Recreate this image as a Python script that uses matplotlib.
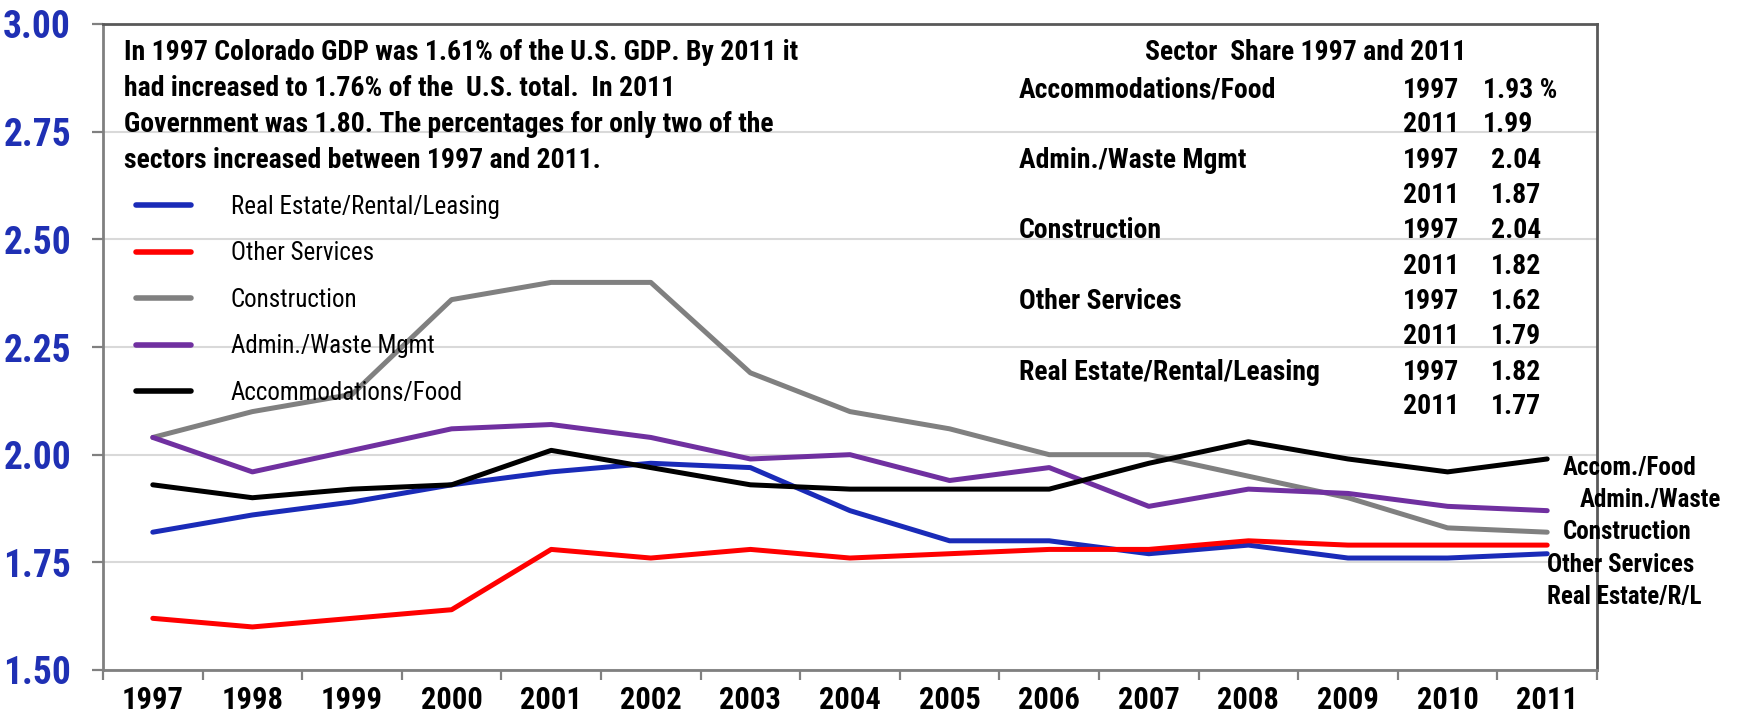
import matplotlib
matplotlib.use("Agg")
import matplotlib.pyplot as plt
from matplotlib import font_manager as fm

# ---------------- data ----------------
years = ["1997", "1998", "1999", "2000", "2001", "2002", "2003", "2004",
         "2005", "2006", "2007", "2008", "2009", "2010", "2011"]
real_estate = [1.82, 1.86, 1.89, 1.93, 1.96, 1.98, 1.97, 1.87, 1.80, 1.80, 1.77, 1.79, 1.76, 1.76, 1.77]
other_services = [1.62, 1.60, 1.62, 1.64, 1.78, 1.76, 1.78, 1.76, 1.77, 1.78, 1.78, 1.80, 1.79, 1.79, 1.79]
construction = [2.04, 2.10, 2.14, 2.36, 2.40, 2.40, 2.19, 2.10, 2.06, 2.00, 2.00, 1.95, 1.90, 1.83, 1.82]
admin_waste = [2.04, 1.96, 2.01, 2.06, 2.07, 2.04, 1.99, 2.00, 1.94, 1.97, 1.88, 1.92, 1.91, 1.88, 1.87]
accom_food = [1.93, 1.90, 1.92, 1.93, 2.01, 1.97, 1.93, 1.92, 1.92, 1.92, 1.98, 2.03, 1.99, 1.96, 1.99]

series_names = ["Real Estate/Rental/Leasing", "Other Services", "Construction",
                "Admin./Waste Mgmt", "Accommodations/Food"]
series_colors = ["#1a2bb8", "#ff0000", "#808080", "#7030a0", "#000000"]

yticks = [1.50, 1.75, 2.00, 2.25, 2.50, 2.75, 3.00]
ytick_labels = ["1.50", "1.75", "2.00", "2.25", "2.50", "2.75", "3.00"]

note_lines = ["In 1997 Colorado GDP was 1.61% of the U.S. GDP. By 2011 it",
              "had increased to 1.76% of the  U.S. total.  In 2011",
              "Government was 1.80. The percentages for only two of the",
              "sectors increased between 1997 and 2011."]

table_title = "Sector  Share 1997 and 2011"
table_sectors = ["Accommodations/Food", "Admin./Waste Mgmt", "Construction",
                 "Other Services", "Real Estate/Rental/Leasing"]
table_1997 = ["1.93 %", "2.04", "2.04", "1.62", "1.82"]
table_2011 = ["1.99", "1.87", "1.82", "1.79", "1.77"]

end_labels = ["Accom./Food", "Admin./Waste", "Construction", "Other Services", "Real Estate/R/L"]

# ---------------- fonts ----------------
names = {f.name for f in fm.fontManager.ttflist}
FAM = None
for cand in ["Liberation Sans Narrow", "Nimbus Sans Narrow", "Roboto Condensed",
             "Archivo Narrow", "PT Sans Narrow"]:
    if cand in names:
        FAM = cand
        break
if FAM is None:
    FAM = "DejaVu Sans"
plt.rcParams["font.family"] = [FAM, "DejaVu Sans"]

W, H = 1740, 715
fig = plt.figure(figsize=(W / 100, H / 100), dpi=100)

def fx(x):
    return x / W

def fy(y):
    return 1 - y / H

left, right, top, bottom = 103, 1597, 24, 670
ax = fig.add_axes([fx(left), fy(bottom), fx(right) - fx(left), fy(top) - fy(bottom)])

xs = list(range(len(years)))
all_series = [real_estate, other_services, construction, admin_waste, accom_food]
for vals, name, col in zip(all_series, series_names, series_colors):
    ax.plot(xs, vals, color=col, lw=3.6, label=name, solid_capstyle="round",
            solid_joinstyle="round", zorder=3)

ax.set_xlim(-0.5, len(years) - 0.5)
ax.set_ylim(1.5, 3.0)
ax.set_yticks(yticks)
ax.set_yticklabels(ytick_labels, fontsize=27, fontweight="bold", color="#1f30b4")
ax.set_xticks(xs)
ax.set_xticklabels(years, fontsize=22, fontweight="bold", color="#000000")
ax.set_xticks([x - 0.5 for x in xs] + [len(years) - 0.5], minor=True)
ax.tick_params(axis="x", which="major", length=0, pad=11)
ax.tick_params(axis="x", which="minor", length=7.5, width=1.6, color="#808080", direction="out")
ax.tick_params(axis="y", which="major", length=8, width=1.6, color="#808080", pad=15)
ax.grid(axis="y", color="#d9d9d9", lw=1.5, zorder=0)
ax.set_axisbelow(True)
for s in ["left", "bottom"]:
    ax.spines[s].set_color("#808080")
    ax.spines[s].set_linewidth(2)
for s in ["top", "right"]:
    ax.spines[s].set_color("#595959")
    ax.spines[s].set_linewidth(2)

# legend
leg = ax.legend(loc="upper left", bbox_to_anchor=(fx(136), fy(195)), bbox_transform=fig.transFigure,
                frameon=False, fontsize=18, handlelength=2.2, handletextpad=1.6,
                labelspacing=0.9, borderaxespad=0, borderpad=0)
for l in leg.get_lines():
    l.set_linewidth(4)

# note text
for i, line in enumerate(note_lines):
    fig.text(fx(124), fy(53 + i * 35.7), line, fontsize=20, fontweight="bold",
             va="center", ha="left")

# table
fig.text(fx(1145), fy(53), table_title, fontsize=20, fontweight="bold", va="center", ha="left")
for i, (sec, v97, v11) in enumerate(zip(table_sectors, table_1997, table_2011)):
    y1 = 90 + i * 70.5
    y2 = y1 + 35
    fig.text(fx(1019), fy(y1), sec, fontsize=20, fontweight="bold", va="center", ha="left")
    fig.text(fx(1403), fy(y1), "1997", fontsize=20, fontweight="bold", va="center", ha="left")
    fig.text(fx(1403), fy(y2), "2011", fontsize=20, fontweight="bold", va="center", ha="left")
    vx = 1483 if i == 0 else 1491
    fig.text(fx(vx), fy(y1), v97, fontsize=20, fontweight="bold", va="center", ha="left")
    fig.text(fx(vx), fy(y2), v11, fontsize=20, fontweight="bold", va="center", ha="left")

# end labels
end_pos = [(1563, 468), (1580, 500), (1563, 532), (1547, 565), (1547, 597)]
for lab, (x, y) in zip(end_labels, end_pos):
    fig.text(fx(x), fy(y), lab, fontsize=18, fontweight="bold", va="center", ha="left")

fig.savefig("out.png", dpi=100)
